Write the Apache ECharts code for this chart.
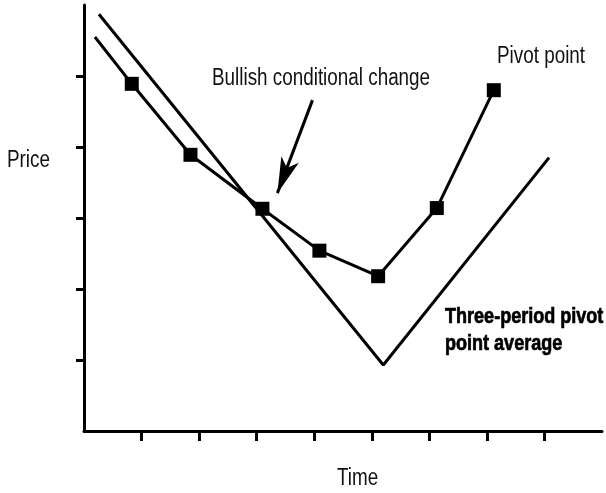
<!DOCTYPE html>
<html>
<head>
<meta charset="utf-8">
<script src="https://cdn.jsdelivr.net/npm/echarts@6/dist/echarts.min.js"></script>
<style>
  html, body { margin: 0; padding: 0; background: #fff; }
  #main { width: 606px; height: 493px; }
</style>
</head>
<body>
<div id="main"></div>
<script>
// 数据 (时间单位 = 一个刻度, 价格单位 = 一个刻度)
var pivotX = [0.19, 0.83, 1.85, 3.10, 4.09, 5.11, 6.13, 7.12];
var pivotY = [5.55, 4.89, 3.89, 3.13, 2.54, 2.18, 3.14, 4.80];
var avgX = [0.26, 5.20, 8.08];
var avgY = [5.87, 0.93, 3.85];
var arrowFrom = [3.97, 4.66];
var arrowTo = [3.36, 3.35];
var xTicks = [1, 2, 3, 4, 5, 6, 7, 8];
var yTicks = [1, 2, 3, 4, 5];

var FONT = '"Liberation Sans", Arial, sans-serif';
var NARROW = 0.82;   // 原图是窄体字, 横向压缩

var pivotData = [];
for (var i = 0; i < pivotX.length; i++) {
    var p = { value: [pivotX[i], pivotY[i]] };
    if (i === 0) p.symbol = 'none';   // 起点没有方块
    pivotData.push(p);
}
var avgData = [];
for (var j = 0; j < avgX.length; j++) {
    avgData.push([avgX[j], avgY[j]]);
}

function label(x, y, text, font, heavy) {
    return {
        type: 'text',
        x: x,
        y: y,
        scaleX: NARROW,
        style: {
            text: text,
            font: font,
            fill: heavy ? '#000' : '#111',
            stroke: heavy ? '#000' : null,
            lineWidth: heavy ? 0.7 : 0,
            verticalAlign: 'middle'
        }
    };
}

var chart = echarts.init(document.getElementById('main'));
chart.setOption({
    animation: false,
    grid: { left: 84, right: 4, top: 5, bottom: 62 },
    xAxis: {
        type: 'value',
        min: 0,
        max: 9,
        interval: 1,
        axisLine: { show: true, lineStyle: { color: '#000', width: 3 } },
        axisTick: {
            show: true,
            customValues: xTicks,
            length: 10,
            lineStyle: { color: '#000', width: 3 }
        },
        axisLabel: { show: false },
        splitLine: { show: false }
    },
    yAxis: {
        type: 'value',
        min: 0,
        max: 6,
        interval: 1,
        axisLine: { show: true, lineStyle: { color: '#000', width: 3 } },
        axisTick: {
            show: true,
            customValues: yTicks,
            length: 8,
            lineStyle: { color: '#000', width: 3 }
        },
        axisLabel: { show: false },
        splitLine: { show: false }
    },
    series: [
        {
            name: 'Pivot point',
            type: 'line',
            data: pivotData,
            symbol: 'rect',
            symbolSize: 14,
            itemStyle: { color: '#000' },
            lineStyle: { color: '#000', width: 3 },
            z: 3
        },
        {
            name: 'Three-period pivot point average',
            type: 'line',
            data: avgData,
            showSymbol: false,
            lineStyle: { color: '#000', width: 3 },
            markLine: {
                silent: true,
                label: { show: false },
                lineStyle: { color: '#000', width: 3, type: 'solid' },
                data: [
                    [
                        { coord: arrowFrom, symbol: 'none' },
                        { coord: arrowTo, symbol: 'arrow', symbolSize: [14, 36] }
                    ]
                ]
            }
        }
    ],
    graphic: [
        label(7, 161, 'Price', '23px ' + FONT),
        label(337, 479, 'Time', '23px ' + FONT),
        label(212, 79, 'Bullish conditional change', '23px ' + FONT),
        label(497, 57, 'Pivot point', '23px ' + FONT),
        label(445, 317, 'Three-period pivot', 'bold 22px ' + FONT, true),
        label(445, 344, 'point average', 'bold 22px ' + FONT, true)
    ]
});
</script>
</body>
</html>
